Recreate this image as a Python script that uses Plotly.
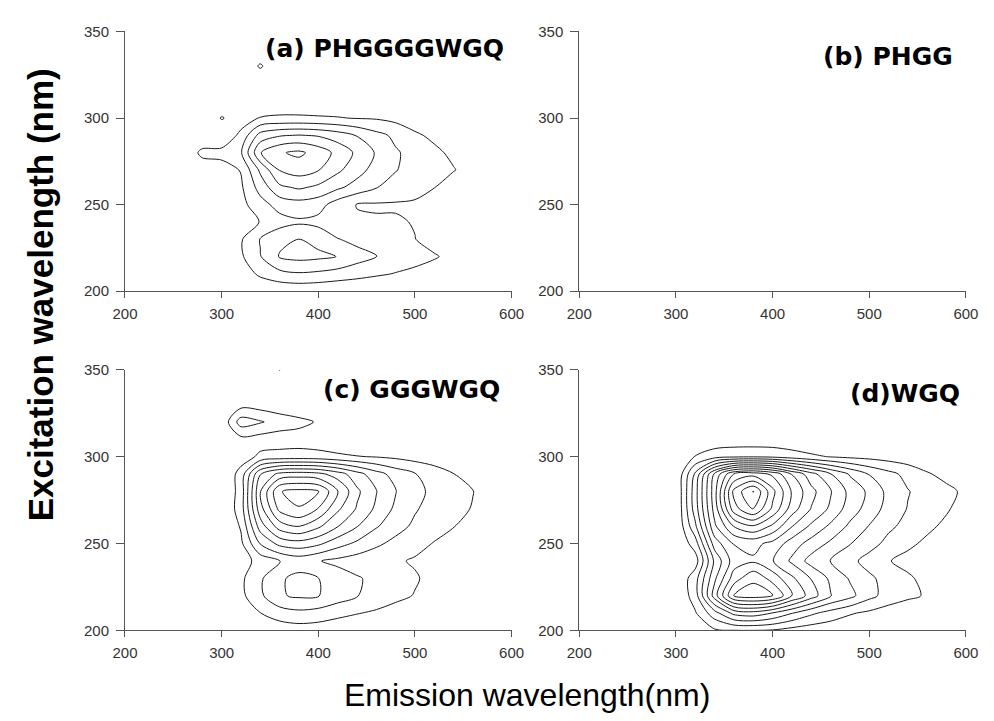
import plotly.graph_objects as go

# Grid: emission columns (nm) and excitation rows (nm)
emission = [260, 280, 300, 320, 340, 360, 380, 400, 420, 440, 460, 480, 500, 520, 540, 560, 580, 600]
excitation = [200, 210, 220, 230, 240, 250, 260, 270, 280, 290, 300, 310, 320, 330, 340, 350]

x_ticks = [200, 300, 400, 500, 600]
y_ticks = [200, 250, 300, 350]

titles = ["(a) PHGGGGWGQ", "(b) PHGG", "(c) GGGWGQ", "(d)WGQ"]

# Estimated contour-level values (one row per excitation wavelength)
z_a = [
    [0, 0, 0, 0, 0.1, 0.2, 0.25, 0.2, 0.1, 0, 0, 0, 0, 0, 0, 0, 0, 0],
    [0, 0, 0, 0.4, 1.2, 1.7, 1.9, 1.8, 1.6, 1.4, 1.15, 0.95, 0.8, 0.5, 0, 0, 0, 0],
    [0, 0, 0, 0.85, 1.95, 3.1, 3.3, 3.2, 2.98, 2.4, 2.05, 1.6, 1.3, 1.1, 0.7, 0, 0, 0],
    [0, 0, 0, 0.9, 2.05, 2.7, 3.02, 2.7, 2.05, 1.7, 1.4, 1.2, 1.02, 0.6, 0.1, 0, 0, 0],
    [0, 0, 0, 0.3, 1.05, 1.6, 1.85, 1.7, 1.2, 1.15, 1.1, 1.1, 0.95, 0.5, 0, 0, 0, 0],
    [0, 0, 0, 0.7, 1.6, 2.4, 2.6, 2.4, 1.5, 0.95, 0.9, 0.9, 0.9, 0.6, 0.2, 0, 0, 0],
    [0, 0, 0.2, 0.85, 2.4, 3.8, 4.15, 3.8, 3.2, 2.6, 2.05, 1.6, 1.25, 1.02, 0.5, 0, 0, 0],
    [0, 0.3, 0.6, 1.05, 3.2, 5.05, 5.45, 5.05, 4.2, 3.4, 2.6, 2.05, 1.6, 1.3, 1.05, 0.6, 0, 0],
    [0, 1.3, 1.3, 1.9, 4.95, 5.9, 6.2, 5.6, 4.7, 3.8, 2.9, 2.1, 1.7, 1.2, 0.8, 0.3, 0, 0],
    [0, 0, 0.2, 1.25, 3.4, 3.9, 4.05, 3.9, 3.5, 2.95, 2.3, 1.8, 1.15, 0.8, 0.6, 0.2, 0, 0],
    [0, 0, 1.08, 0.5, 1.05, 1.15, 1.15, 1.1, 1.05, 0.95, 0.9, 0.7, 0.5, 0.3, 0, 0, 0, 0],
    [0, 0, 0, 0, 0.3, 0.3, 0.3, 0.3, 0.3, 0.1, 0, 0, 0, 0, 0, 0, 0, 0],
    [0, 0, 0, 0, 0, 0, 0, 0, 0, 0, 0, 0, 0, 0, 0, 0, 0, 0],
    [0, 0, 0, 0, 1.15, 0, 0, 0, 0, 0, 0, 0, 0, 0, 0, 0, 0, 0],
    [0, 0, 0, 0, 0, 0, 0, 0, 0, 0, 0, 0, 0, 0, 0, 0, 0, 0],
    [0, 0, 0, 0, 0, 0, 0, 0, 0, 0, 0, 0, 0, 0, 0, 0, 0, 0],
]

z_c = [
    [0, 0, 0, 0, 0.2, 0.4, 0.5, 0.45, 0.3, 0.2, 0, 0, 0, 0, 0, 0, 0, 0],
    [0, 0, 0, 0.3, 0.98, 1.5, 1.75, 1.6, 1.3, 1.05, 0.85, 0.6, 0.4, 0.1, 0, 0, 0, 0],
    [0, 0, 0, 0.75, 1.8, 2.9, 3.15, 3.05, 2.5, 2.05, 1.6, 1.25, 0.95, 0.5, 0.2, 0, 0, 0],
    [0, 0, 0, 0.8, 1.85, 2.85, 3.3, 3.02, 2.5, 2.1, 1.75, 1.4, 1.1, 0.7, 0.3, 0, 0, 0],
    [0, 0, 0, 0.5, 1.4, 1.95, 2.4, 2.05, 1.75, 1.5, 1.3, 1.12, 0.9, 0.5, 0.2, 0, 0, 0],
    [0, 0, 0, 0.8, 3.05, 4.3, 4.6, 4.2, 3.4, 2.8, 2.2, 1.7, 1.3, 0.95, 0.6, 0.3, 0, 0],
    [0, 0, 0, 1.1, 4.5, 6.5, 7.05, 6.2, 5.05, 4.05, 3.1, 2.4, 1.8, 1.35, 1.03, 0.7, 0.3, 0],
    [0, 0, 0, 1.5, 5.6, 8.3, 8.95, 7.95, 6.2, 4.9, 3.8, 2.8, 2.1, 1.6, 1.25, 0.95, 0.6, 0.2],
    [0, 0, 0, 1.4, 5.95, 8.95, 9.3, 9.05, 7.1, 5.2, 4.05, 3.05, 2.3, 1.75, 1.35, 1.02, 0.6, 0.3],
    [0, 0, 0, 1.4, 4.95, 6.3, 6.5, 6.3, 5.5, 4.4, 3.4, 2.6, 2.05, 1.55, 1.02, 0.7, 0.4, 0],
    [0, 0, 0, 0.5, 1.2, 1.4, 1.45, 1.4, 1.2, 1.05, 0.95, 0.8, 0.6, 0.4, 0, 0, 0, 0],
    [0, 0, 0, 0.7, 0.55, 0.45, 0.5, 0.35, 0.2, 0, 0, 0, 0, 0, 0, 0, 0, 0],
    [0, 0, 0.2, 2.5, 2.1, 1.6, 1.3, 0.9, 0.3, 0, 0, 0, 0, 0, 0, 0, 0, 0],
    [0, 0, 0, 0.6, 0.5, 0.3, 0.1, 0, 0, 0, 0, 0, 0, 0, 0, 0, 0, 0],
    [0, 0, 0, 0, 0, 0, 0, 0, 0, 0, 0, 0, 0, 0, 0, 0, 0, 0],
    [0, 0, 0, 0, 0, 1.03, 0, 0, 0, 0, 0, 0, 0, 0, 0, 0, 0, 0],
]

z_d = [
    [0, 0, 0, 0.3, 0.85, 0.95, 0.97, 0.9, 0.6, 0.4, 0.3, 0.2, 0.1, 0, 0, 0, 0, 0],
    [0, 0, 0, 0.9, 2.6, 4.3, 4.6, 3.95, 3.05, 2.2, 1.6, 1.1, 0.8, 0.5, 0.3, 0.1, 0, 0],
    [0, 0, 0, 1.5, 5.5, 9.05, 9.5, 9.1, 7.1, 5.5, 4.05, 3.3, 2.3, 1.6, 1.2, 0.9, 0.2, 0],
    [0, 0, 0, 1.6, 4.8, 7.5, 8.8, 7.6, 6.2, 4.95, 3.8, 2.9, 2.2, 1.6, 1.15, 0.7, 0.2, 0],
    [0, 0, 0, 0.5, 4.2, 6.5, 6.85, 6.05, 4.8, 3.6, 2.95, 2.3, 1.6, 1.05, 0.7, 0.4, 0.1, 0],
    [0, 0, 0, 1.5, 5.5, 7.05, 7.3, 6.7, 5.5, 4.6, 3.8, 3.05, 2.4, 1.7, 1.2, 0.8, 0.4, 0],
    [0, 0, 0, 2.8, 6.8, 9.05, 9.9, 8.8, 7.05, 5.8, 4.8, 3.8, 2.95, 2.2, 1.7, 1.2, 0.8, 0.3],
    [0, 0, 0, 3.5, 7.4, 11.6, 13.05, 10.8, 8.5, 6.95, 5.8, 4.5, 3.6, 2.6, 1.95, 1.5, 1.1, 0.6],
    [0, 0, 0, 3.6, 7.6, 12.3, 14.05, 11.3, 8.9, 7.3, 6.1, 4.7, 3.8, 2.7, 2.05, 1.6, 1.25, 0.8],
    [0, 0, 0, 3.2, 7.2, 10.05, 10.6, 9.8, 7.95, 6.4, 5.05, 3.9, 2.95, 2.3, 1.7, 1.1, 0.7, 0.3],
    [0, 0, 0, 1.05, 1.6, 1.85, 1.9, 1.8, 1.5, 1.2, 0.95, 0.8, 0.7, 0.55, 0.4, 0.3, 0.1, 0],
    [0, 0, 0, 0, 0.3, 0.3, 0.3, 0.3, 0.2, 0, 0, 0, 0, 0, 0, 0, 0, 0],
    [0, 0, 0, 0, 0, 0, 0, 0, 0, 0, 0, 0, 0, 0, 0, 0, 0, 0],
    [0, 0, 0, 0, 0, 0, 0, 0, 0, 0, 0, 0, 0, 0, 0, 0, 0, 0],
    [0, 0, 0, 0, 0, 0, 0, 0, 0, 0, 0, 0, 0, 0, 0, 0, 0, 0],
    [0, 0, 0, 0, 0, 0, 0, 0, 0, 0, 0, 0, 0, 0, 0, 0, 0, 0],
]

levels_a = 6
levels_c = 9
levels_d = 14

W, H = 994, 721

fig = go.Figure()


def add_contour(z, nmax, xa, ya):
    fig.add_trace(go.Contour(
        x=emission, y=excitation, z=z,
        xaxis=xa, yaxis=ya,
        contours=dict(start=1, end=nmax, size=1, coloring="none"),
        line=dict(color="#1a1a1a", width=1, smoothing=0.85),
        showscale=False, hoverinfo="skip",
    ))


add_contour(z_a, levels_a, "x", "y")
add_contour(z_c, levels_c, "x3", "y3")
add_contour(z_d, levels_d, "x4", "y4")

# invisible placeholder so panel (b) axes render
fig.add_trace(go.Scatter(x=[], y=[], xaxis="x2", yaxis="y2", showlegend=False))

tickfont = dict(family="Liberation Sans, Arial", size=15, color="#333333")
common_x = dict(range=[200, 600], tickvals=x_ticks, showgrid=False, zeroline=False,
                showline=True, linecolor="#555555", linewidth=1, ticks="outside",
                ticklen=6, tickcolor="#555555", tickwidth=1, tickfont=tickfont,
                ticklabelstandoff=3)
common_y = dict(range=[200, 350], tickvals=y_ticks, showgrid=False, zeroline=False,
                showline=True, linecolor="#555555", linewidth=1, ticks="outside",
                ticklen=8, tickcolor="#555555", tickwidth=1, tickfont=tickfont,
                ticklabelstandoff=4)

left_dom = [115 / W, 512 / W]
right_dom = [581.5 / W, 978.5 / W]
top_dom = [1 - 289 / H, 1 - 23 / H]
bot_dom = [1 - 636.5 / H, 1 - 369.5 / H]

fig.update_layout(
    width=W, height=H,
    margin=dict(l=0, r=0, t=0, b=0),
    paper_bgcolor="white", plot_bgcolor="white",
    showlegend=False,
    xaxis=dict(domain=left_dom, anchor="y", **common_x),
    yaxis=dict(domain=top_dom, anchor="x", **common_y),
    xaxis2=dict(domain=right_dom, anchor="y2", **common_x),
    yaxis2=dict(domain=top_dom, anchor="x2", **common_y),
    xaxis3=dict(domain=left_dom, anchor="y3", **common_x),
    yaxis3=dict(domain=bot_dom, anchor="x3", **common_y),
    xaxis4=dict(domain=right_dom, anchor="y4", **common_x),
    yaxis4=dict(domain=bot_dom, anchor="x4", **common_y),
)

title_font = dict(family="DejaVu Sans", size=25, color="black", weight="bold")
title_pos = [(381, 40), (898, 49), (409, 390), (916, 394)]
for t, (px, py) in zip(titles, title_pos):
    fig.add_annotation(x=px / W, y=1 - py / H, xref="paper", yref="paper",
                       text=t, showarrow=False, xanchor="center", yanchor="middle",
                       font=title_font)

fig.add_annotation(x=28 / W, y=1 - 293 / H, xref="paper", yref="paper",
                   text="Excitation wavelength (nm)", showarrow=False, textangle=-90,
                   xanchor="center", yanchor="middle",
                   font=dict(family="Liberation Sans, Arial", size=35, color="black", weight="bold"))
fig.add_annotation(x=528 / W, y=1 - 703 / H, xref="paper", yref="paper",
                   text="Emission wavelength(nm)", showarrow=False,
                   xanchor="center", yanchor="middle",
                   font=dict(family="Liberation Sans, Arial", size=32, color="black"))

fig.write_html("out.html")
